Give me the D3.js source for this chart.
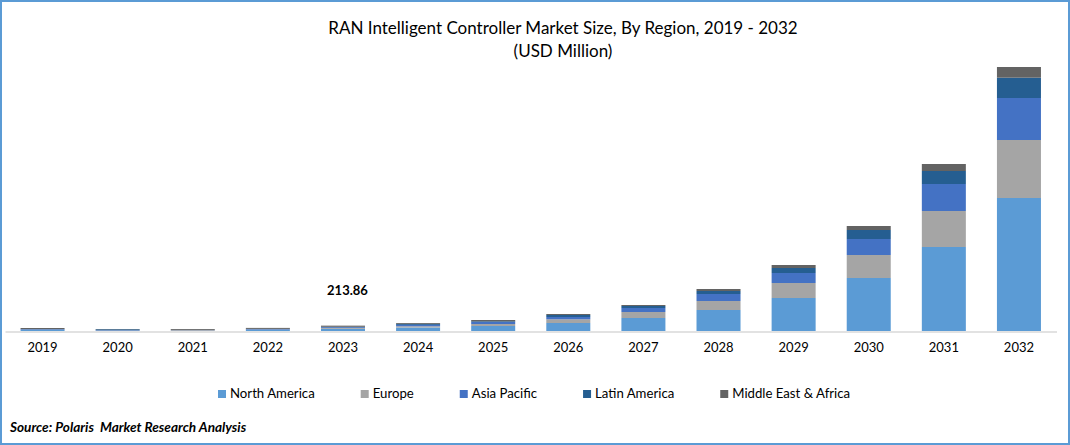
<!DOCTYPE html>
<html>
<head>
<meta charset="utf-8">
<script src="https://cdn.jsdelivr.net/npm/d3@7/dist/d3.min.js"></script>
<style>
  html, body { margin: 0; padding: 0; background: #fff; }
  svg { display: block; }
  text { font-family: Lato, "Open Sans", sans-serif; fill: #000; }
</style>
</head>
<body>
<svg id="chart" width="1070" height="445"></svg>
<script>
// values, USD million
const years = ['2019','2020','2021','2022','2023','2024','2025','2026','2027','2028','2029','2030','2031','2032'];
const regions = ['North America','Europe','Asia Pacific','Latin America','Middle East & Africa'];
const northAmerica = [40, 10, 5, 44, 85, 140, 200, 320, 520, 840, 1320, 2120, 3360, 5320];
const europe = [8, 5, 30, 8, 35, 50, 80, 148, 240, 360, 600, 920, 1440, 2320];
const asiaPacific = [24, 15, 5, 24, 30, 55, 80, 92, 160, 280, 400, 640, 1080, 1680];
const latinAmerica = [8, 40, 5, 8, 18, 40, 28, 80, 80, 120, 200, 360, 520, 813];
const middleEastAfrica = [40, 10, 35, 40, 45.86, 35, 52, 40, 40, 80, 120, 160, 280, 427];
const colors = ['#5b9bd5','#a5a5a5','#4472c4','#255e91','#636363'];
const noteYear = '2023';
const noteText = '213.86';

const svg = d3.select('#chart');
const rows = years.map((y, i) => ({
  year: y,
  'North America': northAmerica[i],
  'Europe': europe[i],
  'Asia Pacific': asiaPacific[i],
  'Latin America': latinAmerica[i],
  'Middle East & Africa': middleEastAfrica[i]
}));
const stacked = d3.stack().keys(regions)(rows);

const x = d3.scaleBand().domain(years).range([5, 1056.5]).paddingInner(0.414).paddingOuter(0.207);
const y = d3.scaleLinear().domain([0, 10560]).range([331, 67]);

// outer frame
svg.append('rect')
  .attr('x', 1).attr('y', 1).attr('width', 1068).attr('height', 443)
  .attr('fill', '#fff').attr('stroke', '#5b9bd5').attr('stroke-width', 2);

// title
const title = svg.append('g').attr('text-anchor', 'middle').style('font-size', '17px');
title.append('text').attr('x', 563).attr('y', 34).text('RAN Intelligent Controller Market Size, By Region, 2019 - 2032');
title.append('text').attr('x', 563).attr('y', 57).text('(USD Million)');

// bars
svg.append('g').selectAll('g')
  .data(stacked)
  .join('g')
  .attr('fill', (d, i) => colors[i])
  .selectAll('rect')
  .data(d => d)
  .join('rect')
  .attr('x', d => x(d.data.year))
  .attr('y', d => y(d[1]))
  .attr('width', x.bandwidth())
  .attr('height', d => y(d[0]) - y(d[1]));

// x axis
const axis = svg.append('g')
  .attr('transform', 'translate(0,331.5)')
  .call(d3.axisBottom(x).tickSize(0).tickPadding(11));
axis.select('.domain').attr('stroke', '#d9d9d9').attr('stroke-width', 1.5);
axis.selectAll('text').style('font-family', 'Lato, sans-serif').style('font-size', '13px').attr('fill', '#000');

// value over 2023
svg.append('text')
  .attr('x', x(noteYear) + x.bandwidth() / 2 + 4.5)
  .attr('y', 295)
  .attr('text-anchor', 'middle')
  .style('font-size', '13px')
  .style('font-weight', 'bold')
  .text(noteText);

// legend, each entry placed after the width of the one before
let legendX = 218;
const legend = svg.append('g');
regions.forEach((r, i) => {
  legend.append('rect')
    .attr('x', legendX).attr('y', 390)
    .attr('width', 8).attr('height', 8)
    .attr('fill', colors[i]);
  const t = legend.append('text')
    .attr('x', legendX + 12).attr('y', 398)
    .style('font-size', '13.2px')
    .text(r);
  legendX += 12 + t.node().getComputedTextLength() + 46;
});

// source
svg.append('text')
  .attr('x', 10).attr('y', 432)
  .style('font-size', '13.6px')
  .style('font-weight', 'bold')
  .style('font-style', 'italic')
  .attr('xml:space', 'preserve')
  .text('Source: Polaris  Market Research Analysis');
</script>
</body>
</html>
